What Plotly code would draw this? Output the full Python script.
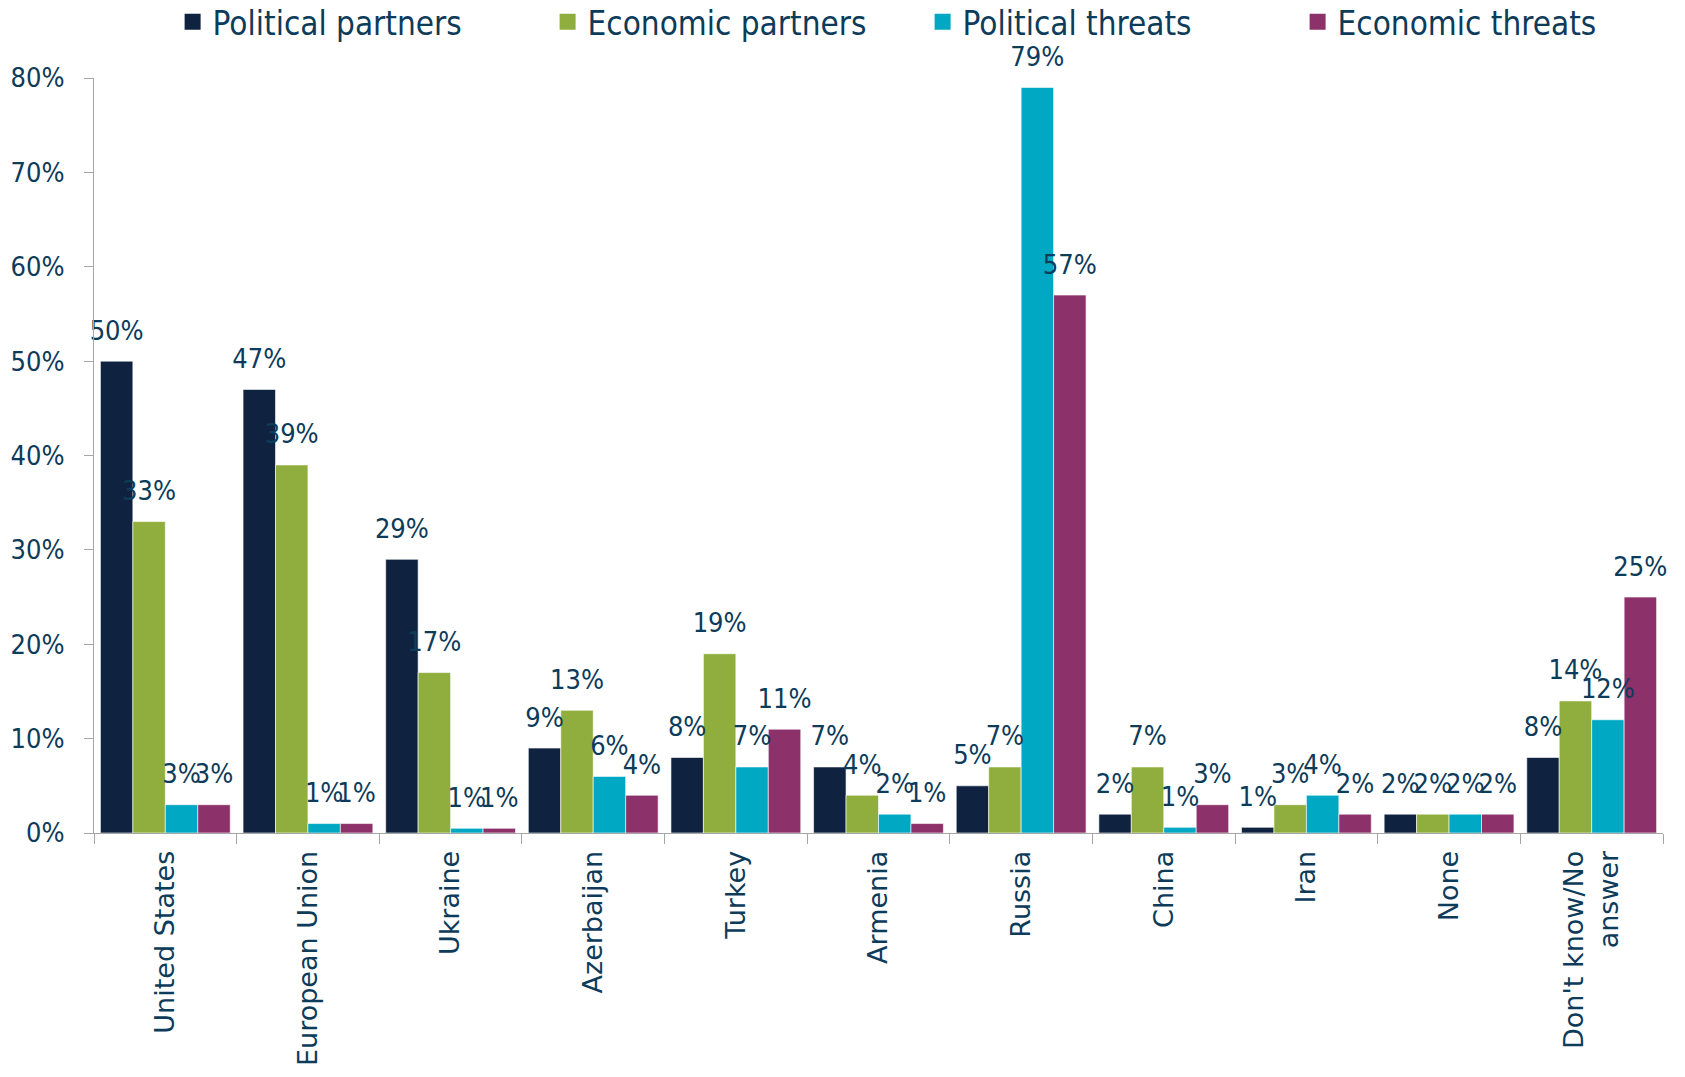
import plotly.graph_objects as go

# Kategorie i wartości (%)
categories = ["United States", "European Union", "Ukraine", "Azerbaijan", "Turkey",
              "Armenia", "Russia", "China", "Iran", "None", "Don't know/No<br>answer"]

political_partners = [50, 47, 29, 9, 8, 7, 5, 2, 0.6, 2, 8]
economic_partners = [33, 39, 17, 13, 19, 4, 7, 7, 3, 2, 14]
political_threats = [3, 1, 0.5, 6, 7, 2, 79, 0.6, 4, 2, 12]
economic_threats = [3, 1, 0.5, 4, 11, 1, 57, 3, 2, 2, 25]

y_ticks = [0, 10, 20, 30, 40, 50, 60, 70, 80]

series = [
    ("Political partners", political_partners, "#0F2340"),
    ("Economic partners", economic_partners, "#8FAE3E"),
    ("Political threats", political_threats, "#00A8C3"),
    ("Economic threats", economic_threats, "#8C3169"),
]

TEXT_COLOR = "#0D3B5A"
NARROW = "DejaVu Sans Condensed, DejaVu Sans, sans-serif"

fig = go.Figure()
# słupki
for name, vals, color in series:
    fig.add_trace(go.Bar(
        x=categories, y=vals, name=name, showlegend=False,
        marker=dict(color=color, line=dict(color="rgba(255,255,255,0.6)", width=1)),
    ))
# etykiety danych jako osobne punkty (scattermode="group" ustawia je nad słupkami)
for name, vals, color in series:
    fig.add_trace(go.Scatter(
        x=categories, y=vals, mode="markers+text", showlegend=False, hoverinfo="skip",
        marker=dict(size=22, color="rgba(0,0,0,0)"),
        text=[f"{int(v + 0.5)}%" for v in vals], textposition="top center",
        textfont=dict(family=NARROW, size=27, color=TEXT_COLOR), cliponaxis=False,
    ))
# legenda z większymi kwadratami (puste ślady na ukrytych osiach)
for name, vals, color in series:
    fig.add_trace(go.Scatter(
        x=[None], y=[None], mode="markers", name=name, xaxis="x2", yaxis="y2",
        marker=dict(symbol="square", size=16, color=color),
    ))

# strona ma 8px marginesu body, więc figura jest mniejsza o 16px
fig.update_layout(
    width=1669, height=1061,
    barmode="group", bargap=0.09, bargroupgap=0,
    scattermode="group", scattergap=0.09,
    plot_bgcolor="white", paper_bgcolor="white",
    margin=dict(l=86, r=14, t=70, b=236),
    font=dict(family="DejaVu Sans", color=TEXT_COLOR),
    legend=dict(orientation="h", xref="container", yref="container",
                x=0.548, xanchor="center", y=0.987, yanchor="middle",
                bgcolor="rgba(0,0,0,0)",
                font=dict(family=NARROW, size=33, color=TEXT_COLOR),
                itemwidth=30, entrywidth=330, traceorder="normal"),
    showlegend=True,
    yaxis=dict(range=[0, 80], tickvals=y_ticks, ticktext=[f"{t}%" for t in y_ticks],
               showgrid=False, zeroline=False, showline=True, linecolor="#A6A6A6",
               linewidth=1, ticks="outside", ticklen=9, tickcolor="#A6A6A6",
               ticklabelstandoff=14, automargin=False,
               tickfont=dict(family=NARROW, size=27, color=TEXT_COLOR)),
    xaxis=dict(showgrid=False, showline=True, linecolor="#A6A6A6", linewidth=1,
               ticks="outside", tickson="boundaries", ticklen=10, tickcolor="#A6A6A6",
               tickangle=-90, ticklabelstandoff=6, automargin=False,
               tickfont=dict(family="DejaVu Sans", size=27, color=TEXT_COLOR)),
    xaxis2=dict(overlaying="x", visible=False),
    yaxis2=dict(overlaying="y", visible=False),
)

fig.write_html("out.html")
